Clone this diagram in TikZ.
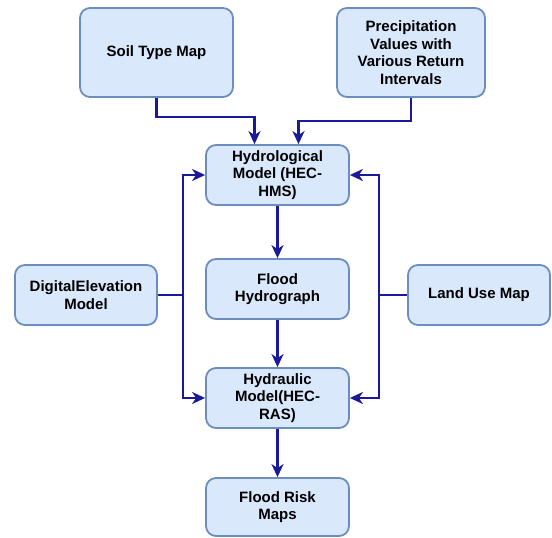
\documentclass[tikz,border=0pt]{standalone}
\usepackage{fontspec}
\setmainfont{Liberation Sans}
\usetikzlibrary{arrows.meta}
\definecolor{boxfill}{HTML}{DAE8FC}
\definecolor{boxdraw}{HTML}{6C8EBF}
\definecolor{arr}{HTML}{1A1A99}
\tikzset{
  box/.style={draw=boxdraw, fill=boxfill, line width=1.8pt, rounded corners=10pt, align=center,
    font=\fontsize{15}{17.5}\selectfont\bfseries, inner sep=0pt},
  conn/.style={draw=arr, line width=2.6pt, -{Stealth[length=13pt,width=12pt,inset=4pt]}},
  plain/.style={draw=arr, line width=2.6pt}
}
\begin{document}
\begin{tikzpicture}[x=1pt,y=-1pt]
\useasboundingbox (0,0) rectangle (552,538);
\node[box, minimum width=153pt, minimum height=89pt] (soil) at (156.5,52.5) {Soil Type Map};
\node[box, minimum width=148pt, minimum height=89pt] (prec) at (411,52.5) {Precipitation\\Values with\\Various Return\\Intervals};
\node[box, minimum width=143pt, minimum height=60pt] (hydro) at (277.5,175) {Hydrological\\Model (HEC-\\HMS)};
\node[box, minimum width=143pt, minimum height=60pt] (hydrog) at (277.5,289) {Flood\\Hydrograph};
\node[box, minimum width=143pt, minimum height=60pt] (hydra) at (277.5,398) {Hydraulic\\Model(HEC-\\RAS)};
\node[box, minimum width=143pt, minimum height=58pt] (risk) at (277.5,507) {Flood Risk\\Maps};
\node[box, minimum width=142pt, minimum height=60pt] (dem) at (86,295) {DigitalElevation\\Model};
\node[box, minimum width=142pt, minimum height=60pt] (land) at (479,295) {Land Use Map};

\coordinate (lx) at (183,295);
\coordinate (rx) at (379,295);

\draw[conn] (soil.south) |- (205,117) -| ([xshift=-23pt]hydro.north);
\draw[conn] (prec.south) |- (350,121) -| ([xshift=21pt]hydro.north);
\draw[plain] (dem.east) -- (lx);
\draw[conn] (lx) |- (hydro.west);
\draw[conn] (lx) |- (hydra.west);
\draw[plain] (land.west) -- (rx);
\draw[conn] (rx) |- (hydro.east);
\draw[conn] (rx) |- (hydra.east);
\draw[conn] (hydro) -- (hydrog);
\draw[conn] (hydrog) -- (hydra);
\draw[conn] (hydra) -- (risk);
\end{tikzpicture}
\end{document}
